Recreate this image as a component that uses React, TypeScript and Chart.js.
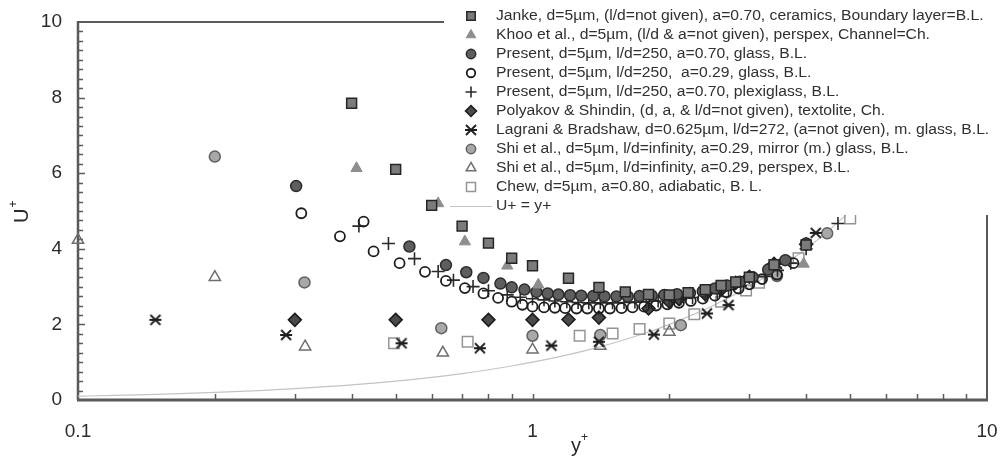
import React, { useEffect, useRef } from 'react';
import { Chart, registerables } from 'chart.js';
import { drawPoint } from 'chart.js/helpers';

Chart.register(...registerables);

// ---------- data (y+, U+) ----------
const jankeX = [0.40, 0.50, 0.60, 0.70, 0.80, 0.90, 1.0, 1.2, 1.4, 1.6, 1.8, 2.0, 2.2, 2.4, 2.6, 2.8, 3.0, 3.4, 4.0];
const jankeU = [7.85, 6.1, 5.15, 4.6, 4.15, 3.75, 3.55, 3.22, 2.98, 2.86, 2.79, 2.78, 2.84, 2.92, 3.03, 3.12, 3.25, 3.58, 4.1];

const khooX = [0.41, 0.62, 0.71, 0.88, 1.03, 3.95];
const khooU = [6.13, 5.2, 4.19, 3.55, 3.05, 3.6];

const presGlass70X = [0.302, 0.536, 0.645, 0.715, 0.78, 0.85, 0.90, 0.96, 1.02, 1.08, 1.14, 1.21, 1.28, 1.36, 1.44, 1.53, 1.62, 1.72, 1.83, 1.95, 2.08, 2.22, 2.37, 2.52, 2.68, 2.86, 3.05, 3.3, 3.6, 4.0];
const presGlass70U = [5.66, 4.06, 3.57, 3.38, 3.23, 3.08, 2.98, 2.92, 2.86, 2.82, 2.79, 2.77, 2.76, 2.75, 2.74, 2.74, 2.74, 2.75, 2.76, 2.78, 2.8, 2.83, 2.88, 2.95, 3.03, 3.13, 3.25, 3.45, 3.7, 4.14];

const presGlass29X = [0.31, 0.377, 0.425, 0.447, 0.51, 0.58, 0.645, 0.71, 0.78, 0.84, 0.90, 0.95, 1.0, 1.06, 1.12, 1.18, 1.25, 1.32, 1.4, 1.48, 1.57, 1.66, 1.76, 1.87, 1.98, 2.1, 2.23, 2.37, 2.52, 2.67, 2.84, 3.0, 3.2, 3.45, 3.75];
const presGlass29U = [4.94, 4.33, 4.72, 3.93, 3.62, 3.39, 3.15, 2.96, 2.82, 2.7, 2.6, 2.52, 2.47, 2.45, 2.44, 2.43, 2.42, 2.42, 2.42, 2.42, 2.43, 2.45, 2.47, 2.5, 2.53, 2.57, 2.62, 2.68, 2.76, 2.85, 2.95, 3.06, 3.2, 3.32, 3.62];

const presPlexiX = [0.415, 0.482, 0.55, 0.62, 0.67, 0.74, 0.80, 0.88, 0.94, 1.0, 1.06, 1.12, 1.19, 1.26, 1.33, 1.41, 1.5, 1.59, 1.68, 1.78, 1.89, 2.0, 2.12, 2.25, 2.4, 2.55, 2.7, 2.87, 3.05, 3.25, 3.46, 3.7, 4.0, 4.7];
const presPlexiU = [4.6, 4.14, 3.74, 3.4, 3.17, 3.0, 2.89, 2.78, 2.72, 2.68, 2.65, 2.62, 2.6, 2.58, 2.57, 2.57, 2.57, 2.58, 2.59, 2.6, 2.62, 2.64, 2.67, 2.71, 2.77, 2.84, 2.92, 3.02, 3.13, 3.27, 3.43, 3.62, 4.0, 4.67];

const polyakovX = [0.30, 0.50, 0.80, 1.0, 1.2, 1.4, 1.8, 2.0, 2.1, 2.4, 2.6, 2.8, 3.0, 3.4, 4.0];
const polyakovU = [2.12, 2.12, 2.12, 2.12, 2.13, 2.18, 2.42, 2.6, 2.67, 2.8, 2.92, 3.1, 3.26, 3.6, 4.12];

const lagraniX = [0.148, 0.287, 0.515, 0.766, 1.10, 1.40, 1.85, 2.42, 2.70, 3.45, 4.2];
const lagraniU = [2.12, 1.72, 1.5, 1.37, 1.44, 1.54, 1.73, 2.29, 2.51, 3.6, 4.42];

const shiMirrorX = [0.20, 0.315, 0.63, 1.0, 1.41, 2.12, 3.45, 4.45];
const shiMirrorU = [6.44, 3.11, 1.9, 1.7, 1.72, 1.98, 3.28, 4.41];

const shiPerspexX = [0.10, 0.20, 0.316, 0.635, 1.0, 1.41, 2.0];
const shiPerspexU = [4.23, 3.25, 1.41, 1.25, 1.33, 1.43, 1.8];

const chewX = [0.496, 0.72, 1.27, 1.5, 1.72, 2.0, 2.27, 2.6, 2.95, 3.15, 3.85, 5.0];
const chewU = [1.5, 1.54, 1.7, 1.76, 1.88, 2.02, 2.27, 2.6, 2.9, 3.1, 3.75, 4.8];

// U+ = y+ reference line
const lawX = [0.1, 0.12, 0.15, 0.2, 0.25, 0.3, 0.4, 0.5, 0.6, 0.7, 0.8, 0.9, 1, 1.2, 1.4, 1.6, 1.8, 2, 2.5, 3, 3.5, 4, 4.5, 5];
const lawU = [0.1, 0.12, 0.15, 0.2, 0.25, 0.3, 0.4, 0.5, 0.6, 0.7, 0.8, 0.9, 1, 1.2, 1.4, 1.6, 1.8, 2, 2.5, 3, 3.5, 4, 4.5, 5];

const xTickValues = [0.1, 1, 10];
const xTickLabels = ['0.1', '1', '10'];
const yTickValues = [0, 2, 4, 6, 8, 10];
const yTickLabels = ['0', '2', '4', '6', '8', '10'];
const xMinorTicks = [0.2, 0.3, 0.4, 0.5, 0.6, 0.7, 0.8, 0.9, 1, 2, 3, 4, 5, 6, 7, 8, 9];

const legendLabels = [
  'Janke, d=5µm, (l/d=not given), a=0.70, ceramics, Boundary layer=B.L.',
  'Khoo et al., d=5µm, (l/d & a=not given), perspex, Channel=Ch.',
  'Present, d=5µm, l/d=250, a=0.70, glass, B.L.',
  'Present, d=5µm, l/d=250,  a=0.29, glass, B.L.',
  'Present, d=5µm, l/d=250, a=0.70, plexiglass, B.L.',
  'Polyakov & Shindin, (d, a, & l/d=not given), textolite, Ch.',
  'Lagrani & Bradshaw, d=0.625µm, l/d=272, (a=not given), m. glass, B.L.',
  'Shi et al., d=5µm, l/d=infinity, a=0.29, mirror (m.) glass, B.L.',
  'Shi et al., d=5µm, l/d=infinity, a=0.29, perspex, B.L.',
  'Chew, d=5µm, a=0.80, adiabatic, B. L.',
  'U+ = y+',
];

const FONT = '"Liberation Sans", Arial, sans-serif';

function pts(xs: number[], us: number[]) {
  return xs.map((x, i) => ({ x, y: us[i] }));
}

function makeAsterisk(): HTMLCanvasElement {
  const c = document.createElement('canvas');
  c.width = 14;
  c.height = 14;
  const g = c.getContext('2d')!;
  g.strokeStyle = '#1e1e1e';
  g.lineWidth = 1.8;
  g.beginPath();
  g.moveTo(2, 2); g.lineTo(12, 12);
  g.moveTo(12, 2); g.lineTo(2, 12);
  g.moveTo(1, 7); g.lineTo(13, 7);
  g.stroke();
  return c;
}

export default function App() {
  const ref = useRef<HTMLCanvasElement | null>(null);

  useEffect(() => {
    if (!ref.current) return;
    const star = makeAsterisk();

    const series = [
      { label: legendLabels[0], data: pts(jankeX, jankeU), pointStyle: 'rect', pointRadius: 7, backgroundColor: '#7b7b7b', borderColor: '#262626', borderWidth: 1.5 },
      { label: legendLabels[1], data: pts(khooX, khooU), pointStyle: 'triangle', pointRadius: 6.5, backgroundColor: '#8e8e8e', borderColor: '#8e8e8e', borderWidth: 1 },
      { label: legendLabels[2], data: pts(presGlass70X, presGlass70U), pointStyle: 'circle', pointRadius: 5.5, backgroundColor: '#5e5e5e', borderColor: '#2b2b2b', borderWidth: 1.5 },
      { label: legendLabels[3], data: pts(presGlass29X, presGlass29U), pointStyle: 'circle', pointRadius: 5, backgroundColor: 'rgba(255,255,255,0)', borderColor: '#1e1e1e', borderWidth: 1.8 },
      { label: legendLabels[4], data: pts(presPlexiX, presPlexiU), pointStyle: 'cross', pointRadius: 6.5, backgroundColor: '#2a2a2a', borderColor: '#2a2a2a', borderWidth: 1.6 },
      { label: legendLabels[5], data: pts(polyakovX, polyakovU), pointStyle: 'rectRot', pointRadius: 6.5, backgroundColor: '#4a4a4a', borderColor: '#1a1a1a', borderWidth: 1.5 },
      { label: legendLabels[6], data: pts(lagraniX, lagraniU), pointStyle: star, pointRadius: 7, backgroundColor: '#1e1e1e', borderColor: '#1e1e1e', borderWidth: 1 },
      { label: legendLabels[7], data: pts(shiMirrorX, shiMirrorU), pointStyle: 'circle', pointRadius: 5.5, backgroundColor: '#a8a8a8', borderColor: '#606060', borderWidth: 1.5 },
      { label: legendLabels[8], data: pts(shiPerspexX, shiPerspexU), pointStyle: 'triangle', pointRadius: 6.5, backgroundColor: 'rgba(255,255,255,0)', borderColor: '#6e6e6e', borderWidth: 1.5 },
      { label: legendLabels[9], data: pts(chewX, chewU), pointStyle: 'rect', pointRadius: 7.5, backgroundColor: 'rgba(255,255,255,0)', borderColor: '#959595', borderWidth: 1.5 },
    ];

    const datasets: any[] = series.map((s) => ({
      ...s,
      type: 'scatter',
      showLine: false,
      pointHoverRadius: s.pointRadius,
      clip: false,
      order: 1,
    }));
    datasets.push({
      label: legendLabels[10],
      type: 'line',
      data: pts(lawX, lawU),
      borderColor: '#c4c4c4',
      borderWidth: 1.2,
      pointRadius: 0,
      fill: false,
      cubicInterpolationMode: 'monotone',
      order: 10,
    });

    const decor = {
      id: 'decor',
      beforeDatasetsDraw(chart: any) {
        const { ctx, chartArea: a, scales } = chart;
        const xs = scales.x;
        const ys = scales.y;
        ctx.save();
        ctx.strokeStyle = '#5a5a5a';
        ctx.lineWidth = 2;
        ctx.beginPath();
        ctx.moveTo(a.left, a.top);
        ctx.lineTo(a.right, a.top);
        ctx.lineTo(a.right, a.bottom);
        ctx.stroke();
        // left axis
        ctx.lineWidth = 2.5;
        ctx.beginPath();
        ctx.moveTo(a.left, a.top - 1);
        ctx.lineTo(a.left, a.bottom);
        ctx.stroke();
        // bottom axis
        ctx.lineWidth = 3;
        ctx.beginPath();
        ctx.moveTo(a.left - 1, a.bottom);
        ctx.lineTo(a.right + 1, a.bottom);
        ctx.stroke();
        // y minor ticks every 0.25
        ctx.lineWidth = 1.5;
        ctx.beginPath();
        for (let k = 1; k < 40; k++) {
          const v = k * 0.25;
          const py = Math.round(ys.getPixelForValue(v)) + 0.5;
          const len = k % 8 === 0 ? 7 : 5;
          ctx.moveTo(a.left, py);
          ctx.lineTo(a.left + len, py);
        }
        ctx.stroke();
        // x minor ticks
        ctx.beginPath();
        for (const v of xMinorTicks) {
          const px = Math.round(xs.getPixelForValue(v)) + 0.5;
          ctx.moveTo(px, a.bottom);
          ctx.lineTo(px, a.bottom - 6);
        }
        ctx.stroke();
        ctx.restore();
      },
      afterDatasetsDraw(chart: any) {
        const { ctx } = chart;
        ctx.save();
        ctx.fillStyle = '#ffffff';
        ctx.fillRect(444, 0, 556, 215);
        const x0 = 471;
        const tx = 496;
        const y0 = 16;
        const dy = 19;
        ctx.font = `14px ${FONT}`;
        ctx.textBaseline = 'middle';
        ctx.textAlign = 'left';
        for (let i = 0; i < legendLabels.length; i++) {
          const y = y0 + dy * i;
          if (i < series.length) {
            const s: any = series[i];
            ctx.save();
            ctx.fillStyle = s.backgroundColor;
            ctx.strokeStyle = s.borderColor;
            ctx.lineWidth = s.borderWidth;
            drawPoint(ctx, { pointStyle: s.pointStyle, radius: s.pointRadius * 0.85, borderWidth: s.borderWidth, rotation: 0 } as any, x0, y);
            ctx.restore();
          } else {
            ctx.save();
            ctx.strokeStyle = '#c4c4c4';
            ctx.lineWidth = 1.2;
            ctx.beginPath();
            ctx.moveTo(450, y + 0.5);
            ctx.lineTo(492, y + 0.5);
            ctx.stroke();
            ctx.restore();
          }
          ctx.save();
          ctx.fillStyle = '#303030';
          ctx.translate(tx, y);
          ctx.scale(1.12, 1);
          ctx.fillText(legendLabels[i], 0, 0);
          ctx.restore();
        }
        ctx.restore();
      },
      afterDraw(chart: any) {
        const { ctx } = chart;
        ctx.save();
        ctx.fillStyle = '#2a2a2a';
        ctx.textBaseline = 'alphabetic';
        ctx.textAlign = 'left';
        // x title  y+
        ctx.font = `20px ${FONT}`;
        ctx.fillText('y', 571, 452);
        ctx.font = `12px ${FONT}`;
        ctx.fillText('+', 581, 441);
        // y title  U+
        ctx.translate(28, 223);
        ctx.rotate(-Math.PI / 2);
        ctx.font = `20px ${FONT}`;
        ctx.fillText('U', 0, 0);
        const w = ctx.measureText('U').width;
        ctx.font = `12px ${FONT}`;
        ctx.fillText('+', w + 1, -11);
        ctx.restore();
      },
    };

    const chart = new Chart(ref.current, {
      type: 'scatter',
      data: { datasets },
      options: {
        responsive: false,
        animation: false,
        events: [],
        layout: { padding: { left: 0, right: 13, top: 22, bottom: 0 } },
        plugins: { legend: { display: false }, tooltip: { enabled: false }, title: { display: false } },
        scales: {
          x: {
            type: 'logarithmic',
            min: 0.1,
            max: 10,
            grid: { display: false, drawTicks: false },
            border: { display: false },
            afterBuildTicks: (s: any) => { s.ticks = xTickValues.map((v) => ({ value: v })); },
            afterFit: (s: any) => { s.height = 60; s.paddingLeft = 0; s.paddingRight = 0; },
            ticks: {
              autoSkip: false,
              maxRotation: 0,
              padding: 20,
              color: '#2a2a2a',
              font: { family: FONT, size: 19 },
              callback: (_v: any, i: number) => xTickLabels[i],
            },
          },
          y: {
            type: 'linear',
            min: 0,
            max: 10,
            grid: { display: false, drawTicks: false },
            border: { display: false },
            afterBuildTicks: (s: any) => { s.ticks = yTickValues.map((v) => ({ value: v })); },
            afterFit: (s: any) => { s.width = 78; s.paddingTop = 0; s.paddingBottom = 0; },
            ticks: {
              padding: 16,
              color: '#2a2a2a',
              font: { family: FONT, size: 19 },
              callback: (_v: any, i: number) => yTickLabels[i],
            },
          },
        },
      },
      plugins: [decor],
    } as any);

    return () => chart.destroy();
  }, []);

  return (
    <div style={{ position: 'fixed', left: 0, top: 0, width: 1000, height: 460, background: '#fff' }}>
      <canvas ref={ref} width={1000} height={460} style={{ display: 'block', width: 1000, height: 460 }} />
    </div>
  );
}
